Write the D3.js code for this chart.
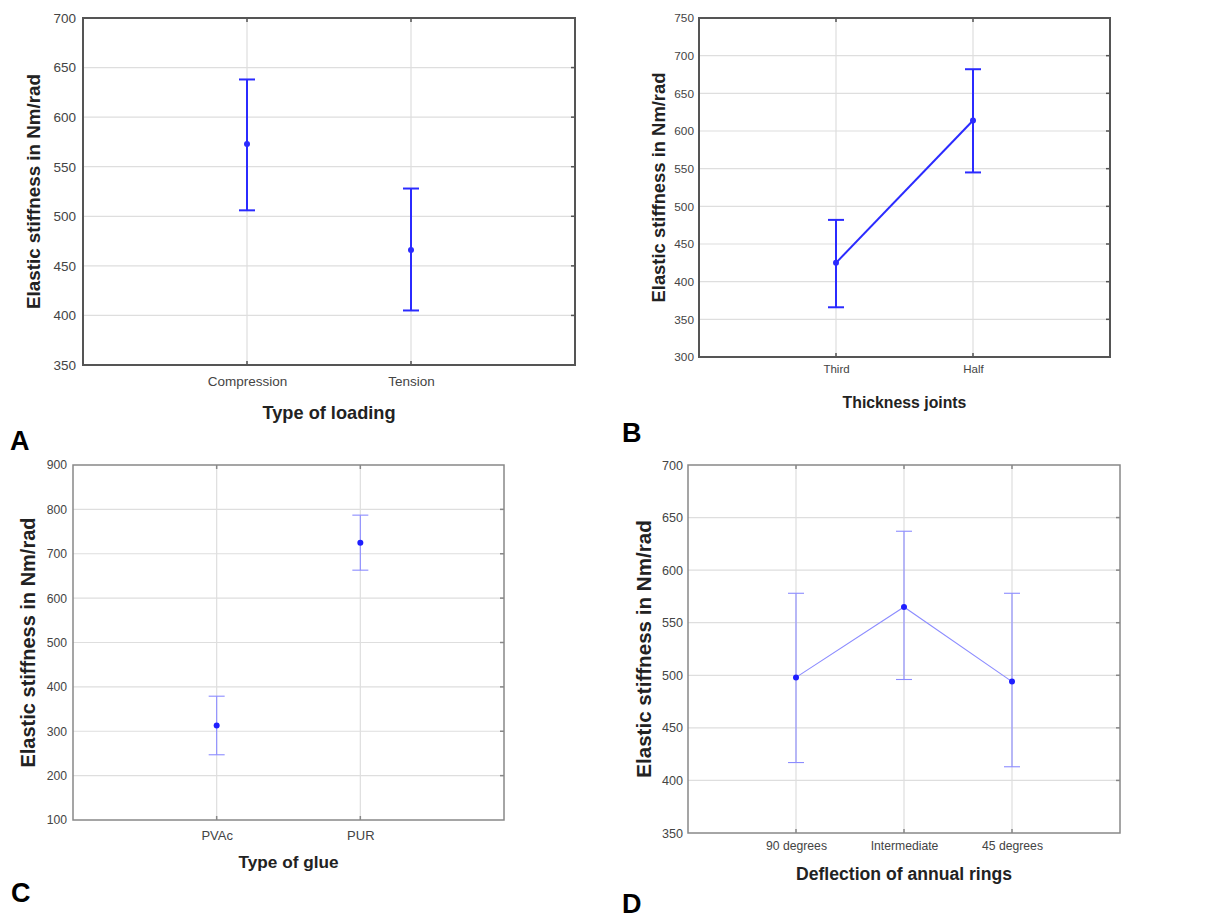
<!DOCTYPE html>
<html><head><meta charset="utf-8">
<script src="https://cdn.jsdelivr.net/npm/d3@7/dist/d3.min.js"></script>
<style>body{margin:0;background:#fff}svg{display:block}text{font-family:"Liberation Sans",Arial,sans-serif}</style>
</head><body><svg id="c" width="1215" height="918"></svg>
<script>
// Panel A
const catsA = ["Compression", "Tension"];
const meanA = [573, 466];
const lowA = [506, 405];
const highA = [638, 528];
const ticksA = [350, 400, 450, 500, 550, 600, 650, 700];
// Panel B
const catsB = ["Third", "Half"];
const meanB = [425, 614];
const lowB = [366, 545];
const highB = [482, 682];
const ticksB = [300, 350, 400, 450, 500, 550, 600, 650, 700, 750];
// Panel C
const catsC = ["PVAc", "PUR"];
const meanC = [313, 725];
const lowC = [247, 663];
const highC = [379, 787];
const ticksC = [100, 200, 300, 400, 500, 600, 700, 800, 900];
// Panel D
const catsD = ["90 degrees", "Intermediate", "45 degrees"];
const meanD = [498, 565, 494];
const lowD = [417, 496, 413];
const highD = [578, 637, 578];
const ticksD = [350, 400, 450, 500, 550, 600, 650, 700];

const svg = d3.select("#c");

const panels = [
  {cats: catsA, mean: meanA, low: lowA, high: highA, ticks: ticksA, line: false,
   box: [83, 18, 575, 365], xTitle: "Type of loading", xTitleY: 418.5, xLabC: 381, yTitleX: 40,
   letter: "A", lx: 10, ly: 450, style: "bold", border: "#555", borderW: 2,
   tickFs: 13.5, xTickFs: 13.5, xTitleFs: 18.2, yTitleFs: 18.8, ypad: 7},
  {cats: catsB, mean: meanB, low: lowB, high: highB, ticks: ticksB, line: true,
   box: [699, 18, 1110, 357], xTitle: "Thickness joints", xTitleY: 407.5, xLabC: 369, yTitleX: 664.5,
   letter: "B", lx: 622, ly: 442, style: "bold", border: "#555", borderW: 2,
   tickFs: 11.8, xTickFs: 11.5, xTitleFs: 15.8, yTitleFs: 18.4, ypad: 5},
  {cats: catsC, mean: meanC, low: lowC, high: highC, ticks: ticksC, line: false,
   box: [73, 465, 504, 820], xTitle: "Type of glue", xTitleY: 868, xLabC: 835, yTitleX: 35,
   letter: "C", lx: 11, ly: 902, style: "light", border: "#888", borderW: 1.5,
   tickFs: 12.2, xTickFs: 13, xTitleFs: 17.2, yTitleFs: 20, ypad: 6},
  {cats: catsD, mean: meanD, low: lowD, high: highD, ticks: ticksD, line: true,
   box: [688, 465, 1120, 833], xTitle: "Deflection of annual rings", xTitleY: 880, xLabC: 846, yTitleX: 651,
   letter: "D", lx: 622, ly: 913, style: "light", border: "#888", borderW: 1.5,
   tickFs: 12.6, xTickFs: 12.2, xTitleFs: 17.6, yTitleFs: 20.6, ypad: 5}
];

panels.forEach(p => {
  const [x0, y0, x1, y1] = p.box;
  const g = svg.append("g");
  const x = d3.scalePoint().domain(p.cats).range([x0, x1]).padding(1);
  const y = d3.scaleLinear().domain([p.ticks[0], p.ticks[p.ticks.length - 1]]).range([y1, y0]);

  // grid
  g.append("g").selectAll("line").data(p.ticks.slice(1, -1)).join("line")
    .attr("x1", x0).attr("x2", x1).attr("y1", d => y(d)).attr("y2", d => y(d))
    .attr("stroke", "#dedede").attr("stroke-width", 1.2);
  g.append("g").selectAll("line").data(p.cats).join("line")
    .attr("x1", d => x(d)).attr("x2", d => x(d)).attr("y1", y0).attr("y2", y1)
    .attr("stroke", "#dedede").attr("stroke-width", 1.2);

  // y axis
  const ya = d3.axisLeft(y).tickValues(p.ticks).tickSize(0).tickPadding(p.ypad);
  const yg = g.append("g").attr("transform", `translate(${x0},0)`).call(ya);
  yg.select(".domain").remove();
  yg.selectAll("text").attr("fill", "#444").style("font-size", p.tickFs + "px");

  // x axis labels
  const xa = d3.axisBottom(x).tickSize(0).tickPadding(0);
  const xg = g.append("g").attr("transform", `translate(0,${p.xLabC - 0.355 * p.xTickFs})`).call(xa);
  xg.select(".domain").remove();
  xg.selectAll("text").attr("fill", "#444").style("font-size", p.xTickFs + "px");

  // small tick marks on frame
  g.append("g").selectAll("line").data(p.cats).join("line")
    .attr("x1", d => x(d)).attr("x2", d => x(d)).attr("y1", y1).attr("y2", y1 - 4)
    .attr("stroke", p.border).attr("stroke-width", 1.5);
  g.append("g").selectAll("line").data(p.cats).join("line")
    .attr("x1", d => x(d)).attr("x2", d => x(d)).attr("y1", y0).attr("y2", y0 + 4)
    .attr("stroke", p.border).attr("stroke-width", 1.5);
  g.append("g").selectAll("line").data(p.ticks.slice(1, -1)).join("line")
    .attr("x1", x1).attr("x2", x1 - 4).attr("y1", d => y(d)).attr("y2", d => y(d))
    .attr("stroke", p.border).attr("stroke-width", 1.5);

  // frame
  g.append("rect").attr("x", x0).attr("y", y0).attr("width", x1 - x0).attr("height", y1 - y0)
    .attr("fill", "none").attr("stroke", p.border).attr("stroke-width", p.borderW);

  const col = p.style === "bold" ? "#2b2bff" : "#8c8cff";
  const sw = p.style === "bold" ? 2 : 1.1;
  const dotCol = p.style === "bold" ? "#2b2bff" : "#1f1fff";
  const capW = 8;

  const data = p.cats.map((c, i) => ({c, m: p.mean[i], lo: p.low[i], hi: p.high[i]}));

  if (p.line) {
    g.append("path").datum(data)
      .attr("d", d3.line().x(d => x(d.c)).y(d => y(d.m)))
      .attr("fill", "none").attr("stroke", col).attr("stroke-width", sw);
  }
  const eb = g.append("g").selectAll("g").data(data).join("g");
  eb.append("line").attr("x1", d => x(d.c)).attr("x2", d => x(d.c))
    .attr("y1", d => y(d.lo)).attr("y2", d => y(d.hi)).attr("stroke", col).attr("stroke-width", sw);
  eb.append("line").attr("x1", d => x(d.c) - capW).attr("x2", d => x(d.c) + capW)
    .attr("y1", d => y(d.lo)).attr("y2", d => y(d.lo)).attr("stroke", col).attr("stroke-width", sw);
  eb.append("line").attr("x1", d => x(d.c) - capW).attr("x2", d => x(d.c) + capW)
    .attr("y1", d => y(d.hi)).attr("y2", d => y(d.hi)).attr("stroke", col).attr("stroke-width", sw);
  eb.append("circle").attr("cx", d => x(d.c)).attr("cy", d => y(d.m)).attr("r", 3).attr("fill", dotCol);

  // titles
  g.append("text").attr("x", (x0 + x1) / 2).attr("y", p.xTitleY).attr("text-anchor", "middle")
    .attr("font-weight", "bold").attr("fill", "#222").style("font-size", p.xTitleFs + "px").text(p.xTitle);
  g.append("text").attr("transform", `translate(${p.yTitleX},${(y0 + y1) / 2}) rotate(-90)`)
    .attr("text-anchor", "middle").attr("font-weight", "bold").attr("fill", "#222")
    .style("font-size", p.yTitleFs + "px").text("Elastic stiffness in Nm/rad");
  g.append("text").attr("x", p.lx).attr("y", p.ly).attr("font-weight", "bold").attr("fill", "#000")
    .style("font-size", "27px").text(p.letter);
});
</script></body></html>
